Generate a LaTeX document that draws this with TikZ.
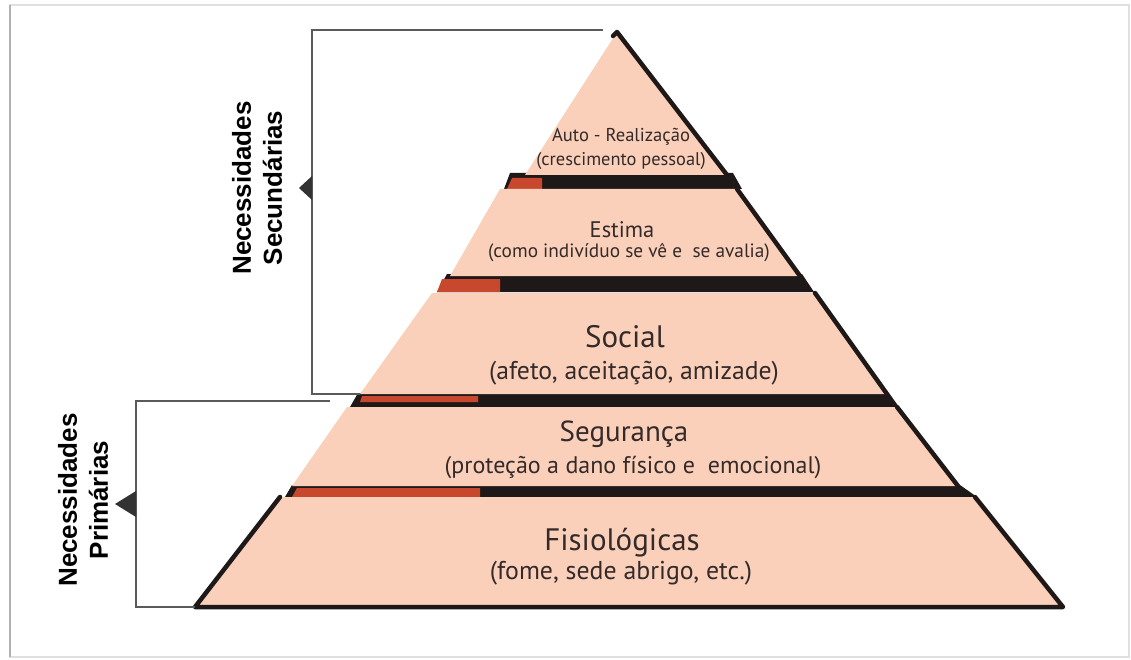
\documentclass[tikz,border=0pt]{standalone}
\usepackage{fontspec}
\setmainfont{PT Sans}
\newfontfamily\labfont{Liberation Sans}
\definecolor{peach}{RGB}{250,208,186}
\definecolor{brick}{RGB}{200,72,45}
\definecolor{band}{RGB}{30,24,24}
\definecolor{txt}{RGB}{52,42,42}
\definecolor{brk}{RGB}{90,90,90}
\begin{document}
\begin{tikzpicture}[x=1pt,y=-1pt,
  layer/.style={fill=peach,draw=none},
  bandfill/.style={fill=band,draw=none},
  redfill/.style={fill=brick,draw=none},
  edge/.style={draw=band,line width=4.5pt,line cap=round,line join=round},
  bracket/.style={draw=brk,line width=1.3pt},
  marker/.style={fill=black!80,draw=none},
  title/.style={text=txt,inner sep=0pt,align=center},
  side/.style={inner sep=0pt,align=center,rotate=90,font=\labfont\bfseries\fontsize{26}{31}\selectfont}]
\useasboundingbox (0,0) rectangle (1131,660);
\fill[white] (0,0) rectangle (1131,660);
% frame
\draw[black!12,line width=2pt] (10,5) rectangle (1129,657);
\draw[black!30,line width=2pt] (10,5) -- (10,657);
% bands
\fill[bandfill] (510,173) -- (733,173) -- (742,189) -- (504,189) -- cycle;
\fill[redfill] (512,178) -- (542,178) -- (542,189) -- (507,189) -- cycle;
\fill[bandfill] (447,274) -- (802,274) -- (814,292) -- (437,292) -- cycle;
\fill[redfill] (442,279) -- (500,279) -- (500,292) -- (437,292) -- cycle;
\fill[bandfill] (358,393) -- (889,393) -- (899,407) -- (350,407) -- cycle;
\fill[redfill] (362,396) -- (478,396) -- (478,402) -- (360,402) -- cycle;
\fill[bandfill] (292,485) -- (960,485) -- (977,497) -- (285,497) -- cycle;
\fill[redfill] (297,488) -- (480,488) -- (480,497) -- (292,497) -- cycle;
% layers
\fill[layer] (617,32) -- (727,175) -- (525,175) -- cycle;
\fill[layer] (500,189) -- (737,189) -- (800,276) -- (450,276) -- cycle;
\fill[layer] (432,293) -- (815,293) -- (887,394) -- (360,394) -- cycle;
\fill[layer] (347,407) -- (897,407) -- (958,486) -- (292,486) -- cycle;
\fill[layer] (280,497) -- (975,497) -- (1063,607) -- (195,607) -- cycle;
% edges
\draw[edge] (613,36) -- (617,32) -- (727,175);
\draw[edge] (737,189) -- (800,276);
\draw[edge] (815,293) -- (887,394);
\draw[edge] (897,407) -- (958,486);
\draw[edge] (280,497) -- (195,607) -- (1063,607) -- (975,497);
% brackets
\coordinate (s1) at (603,30);
\coordinate (s2) at (312,30);
\coordinate (s3) at (312,394);
\coordinate (s4) at (360,394);
\draw[bracket] (s1) -- (s2) -- (s3) -- (s4);
\fill[marker] (299,188) -- (312,176) -- (312,200) -- cycle;
\coordinate (p1) at (330,401);
\coordinate (p2) at (136,401);
\coordinate (p3) at (136,607);
\coordinate (p4) at (195,607);
\draw[bracket] (p1) -- (p2) -- (p3) -- (p4);
\fill[marker] (115,504) -- (136,491) -- (136,517) -- cycle;
% side labels
\node[side] (sec) at (257,188) {Necessidades\\Secundárias};
\node[side] (pri) at (83,500) {Necessidades\\Primárias};
% layer texts
\node[title,font=\fontsize{18.6}{21}\selectfont] (t1a) at (621,137) {Auto - Realização};
\node[title,font=\fontsize{18.4}{21}\selectfont] (t1b) at (621,161) {(crescimento pessoal)};
\node[title,font=\fontsize{22.5}{26}\selectfont] (t2a) at (622,230) {Estima};
\node[title,font=\fontsize{19.3}{22}\selectfont] (t2b) at (629,253) {(como indivíduo se vê e \ se avalia)};
\node[title,font=\fontsize{31}{36}\selectfont] (t3a) at (625,337) {Social};
\node[title,font=\fontsize{25.7}{29}\selectfont] (t3b) at (634,373) {(afeto, aceitação, amizade)};
\node[title,font=\fontsize{29}{32}\selectfont] (t4a) at (624,434) {Segurança};
\node[title,font=\fontsize{24}{27}\selectfont] (t4b) at (633,467) {(proteção a dano físico e \ emocional)};
\node[title,font=\fontsize{31}{34}\selectfont] (t5a) at (622,543) {Fisiológicas};
\node[title,font=\fontsize{25.8}{29}\selectfont] (t5b) at (621,573) {(fome, sede abrigo, etc.)};
\end{tikzpicture}
\end{document}
